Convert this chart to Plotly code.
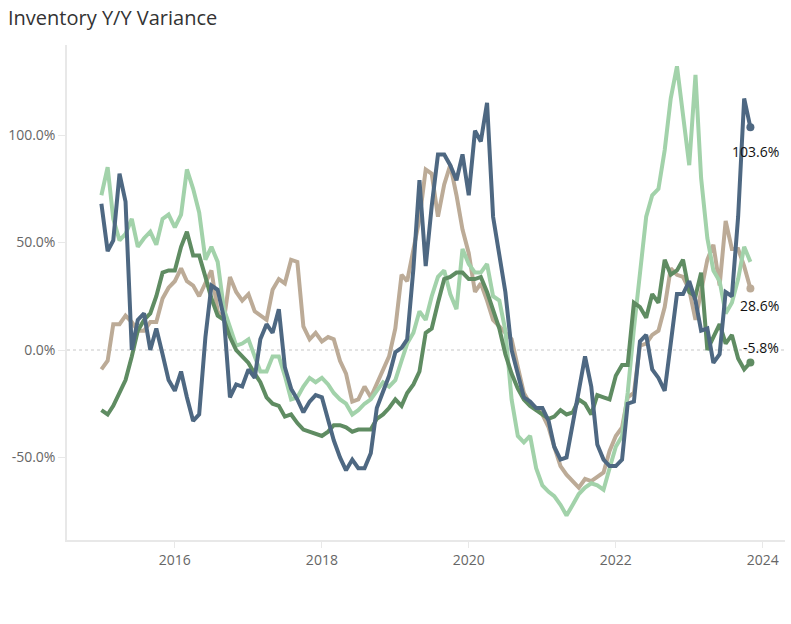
import plotly.graph_objects as go
import pandas as pd

dates = pd.date_range("2015-01-01", periods=107, freq="MS")

series_blue = [68, 46, 51, 82, 69, 0, 14, 17, 0, 10, -2, -14, -19, -10, -22, -33, -30, 6, 30, 28,
               15, -22, -16, -17, -9, -13, 5, 12, 8, 19, -8, -18, -23, -29, -24, -21, -22, -32, -42, -50,
               -56, -51, -55, -55, -48, -27, -19, -12, -1, 1, 5, 38, 79, 39, 67, 91, 91, 86, 79, 91,
               72, 102, 97, 115, 62, 44, 27, 0, -12, -22, -24, -27, -27, -33, -45, -51, -50, -35, -19, -3,
               -17, -44, -51, -54, -54, -51, -25, -24, 4, 7, -9, -13, -19, 3, 26, 26, 32, 23, 9, 10,
               -6, -2, 27, 25, 62, 117, 103.6]

series_dkgreen = [-28, -30, -26, -20, -14, -3, 9, 14, 17, 25, 36, 37, 37, 48, 55, 44, 44, 34, 24, 16,
                  14, 6, 0, -3, -6, -11, -15, -22, -25, -26, -31, -30, -34, -37, -38, -39, -40, -38, -35, -35,
                  -36, -38, -37, -37, -37, -32, -30, -27, -23, -26, -20, -16, -10, 8, 10, 22, 33, 34, 36, 36,
                  33, 33, 34, 27, 18, 10, -2, -11, -18, -23, -26, -28, -30, -32, -31, -28, -30, -29, -23, -25,
                  -30, -21, -22, -23, -12, -7, -7, 22, 20, 15, 26, 22, 42, 35, 37, 42, 27, 25, 36, 0,
                  6, 12, 3, 7, -4, -9, -5.8]

series_ltgreen = [72, 85, 61, 51, 54, 61, 48, 52, 55, 49, 61, 63, 57, 63, 84, 75, 64, 42, 48, 41,
                  19, 11, 2, 3, 5, -3, -10, -10, -3, -3, -12, -23, -22, -17, -13, -15, -13, -16, -20, -23,
                  -25, -30, -28, -25, -23, -19, -15, -17, -14, -5, 3, 8, 18, 14, 25, 34, 37, 26, 19, 47,
                  40, 36, 36, 40, 25, 23, 9, -23, -40, -43, -40, -55, -63, -66, -68, -72, -77, -72, -67, -64,
                  -62, -63, -65, -55, -45, -40, -20, 10, 35, 62, 72, 75, 93, 117, 132, 109, 86, 128, 80, 52,
                  37, 32, 17, 22, 33, 48, 41]

series_tan = [-9, -5, 12, 12, 16, 13, 9, 9, 13, 13, 24, 29, 32, 38, 32, 30, 25, 31, 37, 18,
              14, 34, 27, 23, 26, 18, 16, 14, 28, 33, 31, 42, 41, 11, 5, 8, 4, 6, 5, -5,
              -11, -24, -23, -17, -22, -16, -9, -3, 10, 35, 32, 48, 61, 84, 82, 62, 77, 86, 72, 56,
              45, 27, 31, 23, 14, 11, 8, 5, -8, -20, -25, -27, -30, -36, -45, -54, -58, -61, -64, -60,
              -61, -59, -57, -47, -40, -36, -22, -20, 2, 3, 7, 9, 20, 38, 35, 34, 28, 14, 28, 42,
              49, 30, 60, 47, 47, 39, 28.6]

y_tick_vals = [-50, 0, 50, 100]
y_tick_text = ["-50.0%", "0.0%", "50.0%", "100.0%"]
x_tick_vals = ["2016-01-01", "2018-01-01", "2020-01-01", "2022-01-01", "2024-01-01"]
x_tick_text = ["2016", "2018", "2020", "2022", "2024"]

C_BLUE = "#4e6882"
C_DKG = "#5f8c62"
C_LTG = "#a2d2aa"
C_TAN = "#bcab97"

fig = go.Figure()
for vals, col in [(series_tan, C_TAN), (series_ltgreen, C_LTG), (series_dkgreen, C_DKG), (series_blue, C_BLUE)]:
    fig.add_trace(go.Scatter(x=dates, y=vals, mode="lines", line=dict(color=col, width=4),
                             hoverinfo="skip", showlegend=False, cliponaxis=False))

for vals, col in [(series_blue, C_BLUE), (series_tan, C_TAN), (series_dkgreen, C_DKG)]:
    fig.add_trace(go.Scatter(x=[dates[-1]], y=[vals[-1]], mode="markers",
                             marker=dict(color=col, size=8), showlegend=False, hoverinfo="skip",
                             cliponaxis=False))

fig.add_annotation(x=dates[-1], y=series_blue[-1], text="103.6%", showarrow=False, xanchor="right",
                   xshift=31, yshift=-24, font=dict(size=14, color="#111"))
fig.add_annotation(x=dates[-1], y=series_tan[-1], text="28.6%", showarrow=False, xanchor="right",
                   xshift=31, yshift=-17, font=dict(size=14, color="#111"))
fig.add_annotation(x=dates[-1], y=series_dkgreen[-1], text="-5.8%", showarrow=False, xanchor="right",
                   xshift=31, yshift=15, font=dict(size=14, color="#111"))

fig.add_shape(type="line", xref="paper", yref="y", x0=0, x1=1, y0=0, y1=0,
              line=dict(color="#c8c8c8", width=1.2, dash="dot"), layer="below")

fig.update_layout(
    width=791, height=624,
    margin=dict(l=67, r=6, t=45, b=84, autoexpand=False),
    paper_bgcolor="white", plot_bgcolor="white",
    font=dict(family="Open Sans, sans-serif", color="#666"),
    title=dict(text="Inventory Y/Y Variance", x=8 / 791, xanchor="left", y=1 - 18 / 624, yanchor="middle",
               xref="container", yref="container", font=dict(size=20, color="#333")),
    xaxis=dict(range=["2014-07-14", "2024-04-21"], tickvals=x_tick_vals, ticktext=x_tick_text,
               showgrid=False, zeroline=False, showline=True, linecolor="#e8e8e8", linewidth=1.5,
               ticks="outside", ticklen=6, tickcolor="#e8e8e8", automargin=False,
               tickfont=dict(size=14, color="#666")),
    yaxis=dict(range=[-88.4, 141.9], tickvals=y_tick_vals, ticktext=y_tick_text,
               showgrid=False, zeroline=False, showline=True, linecolor="#e8e8e8", linewidth=1.5,
               ticks="outside", ticklen=7, tickcolor="#e8e8e8", automargin=False,
               tickfont=dict(size=14, color="#666")),
)

fig.write_html("out.html", config={"displayModeBar": False},
               post_script="document.body.style.margin='0';document.body.style.overflow='hidden';")
